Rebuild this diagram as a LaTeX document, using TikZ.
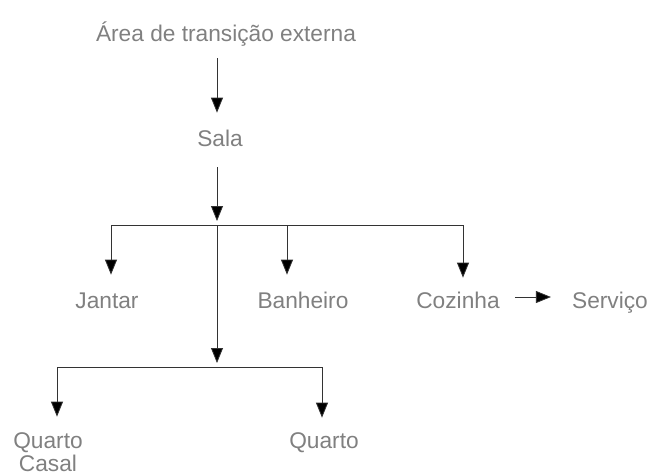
\documentclass[tikz,border=0pt]{standalone}
\usepackage{fontspec}
\setmainfont{Liberation Sans}
\usetikzlibrary{arrows.meta,positioning}

\tikzset{
	rotulo/.style={inner sep=0pt, text height=16.3pt, text depth=0pt, text=black!50, font=\fontsize{22.7}{24}\selectfont},
	seta/.style={line width=0.8pt, draw=black!80, -{Triangle[width=12pt,length=15pt,fill=black]}}
}

\begin{document}
\begin{tikzpicture}[x=1pt, y=-1pt]
	\useasboundingbox (0,0) rectangle (649,475);
	% ambientes
	\node[rotulo] (area) at (226,33) {Área de transição externa};
	\node[rotulo] (sala) at (220,138) {Sala};
	\node[rotulo] (jantar) at (107,300) {Jantar};
	\node[rotulo] (banheiro) at (303,300) {Banheiro};
	\node[rotulo] (cozinha) at (458,300) {Cozinha};
	\node[rotulo] (servico) at (610,300) {Serviço};
	\node[rotulo] (qcasal) at (48,440) {Quarto};
	\node[rotulo, below=6.5pt of qcasal] (casal) {Casal};
	\node[rotulo] (quarto) at (324,440) {Quarto};
	% pontos de derivacao
	\coordinate (j1) at (217,225);
	\coordinate (j2) at (217,367);
	% fluxo principal
	\draw[seta, shorten <=17pt, shorten >=17pt] (area.south -| j1) -- (sala.north -| j1);
	\draw[seta, shorten <=21pt, shorten >=4pt] (sala.south -| j1) -- (j1);
	\draw[seta, shorten >=17pt] (j1) -| ([xshift=4pt]jantar.north);
	\draw[seta, shorten >=17pt] (j1) -| ([xshift=-16pt]banheiro.north);
	\draw[seta, shorten >=14pt] (j1) -| ([xshift=5pt]cozinha.north);
	\draw[seta, shorten >=4pt] (j1) -- (j2);
	\draw[seta, shorten >=15pt] (j2) -| ([xshift=9pt]qcasal.north);
	\draw[seta, shorten >=14pt] (j2) -| ([xshift=-2pt]quarto.north);
	% cozinha -> servico
	\draw[seta, shorten <=15pt, shorten >=21pt] ([yshift=3pt]cozinha.east) -- ([yshift=3pt]servico.west);
\end{tikzpicture}
\end{document}
